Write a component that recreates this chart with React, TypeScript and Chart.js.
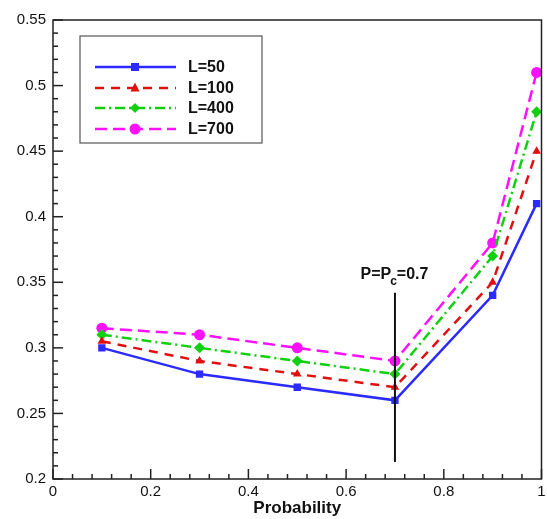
import React, { useEffect, useRef } from "react";
import { Chart, registerables } from "chart.js";

Chart.register(...registerables);

const probability = [0.1, 0.3, 0.5, 0.7, 0.9, 0.99];
const l50 = [0.3, 0.28, 0.27, 0.26, 0.34, 0.41];
const l100 = [0.305, 0.29, 0.28, 0.27, 0.35, 0.45];
const l400 = [0.31, 0.3, 0.29, 0.28, 0.37, 0.48];
const l700 = [0.315, 0.31, 0.3, 0.29, 0.38, 0.51];
const seriesLabels = ["L=50", "L=100", "L=400", "L=700"];
const markerLineX = 0.7;
const markerLineY = [0.213, 0.342];

const FONT = "'Liberation Sans', Arial, sans-serif";

const styles = [
  { color: "#2b2bff", dash: [] as number[], point: "rect", radius: 5.2, lr: 4 },
  { color: "#e01010", dash: [9, 7], point: "triangle", radius: 5, lr: 4.5 },
  { color: "#10d010", dash: [10, 4, 2, 4], point: "rectRot", radius: 5.5, lr: 5 },
  { color: "#ff10ff", dash: [12, 6], point: "circle", radius: 5.5, lr: 5.5 },
];

const drawMarker = (ctx: CanvasRenderingContext2D, kind: string, x: number, y: number, r: number, color: string) => {
  ctx.save();
  ctx.fillStyle = color;
  ctx.beginPath();
  if (kind === "rect") {
    ctx.rect(x - r, y - r, 2 * r, 2 * r);
  } else if (kind === "triangle") {
    ctx.moveTo(x, y - r * 1.2);
    ctx.lineTo(x + r, y + r * 0.8);
    ctx.lineTo(x - r, y + r * 0.8);
    ctx.closePath();
  } else if (kind === "rectRot") {
    ctx.moveTo(x, y - r);
    ctx.lineTo(x + r, y);
    ctx.lineTo(x, y + r);
    ctx.lineTo(x - r, y);
    ctx.closePath();
  } else {
    ctx.arc(x, y, r, 0, Math.PI * 2);
  }
  ctx.fill();
  ctx.restore();
};

const framePlugin = {
  id: "framePlugin",
  afterDatasetsDraw(chart: any) {
    const { ctx, chartArea: a, scales } = chart;
    const xs = scales.x;
    const ys = scales.y;
    ctx.save();
    ctx.strokeStyle = "#222";
    ctx.lineWidth = 1.5;
    ctx.strokeRect(a.left, a.top, a.right - a.left, a.bottom - a.top);
    for (let i = 0; i <= 25; i++) {
      const v = i * 0.04;
      const px = xs.getPixelForValue(v);
      const major = i % 5 === 0;
      ctx.beginPath();
      ctx.moveTo(px, a.bottom);
      ctx.lineTo(px, a.bottom - (major ? 10 : 5));
      ctx.stroke();
    }
    for (let i = 0; i <= 35; i++) {
      const v = 0.2 + i * 0.01;
      const py = ys.getPixelForValue(v);
      const major = i % 5 === 0;
      ctx.beginPath();
      ctx.moveTo(a.left, py);
      ctx.lineTo(a.left + (major ? 10 : 5), py);
      ctx.stroke();
    }
    ctx.strokeStyle = "#111";
    ctx.lineWidth = 2;
    const lx = xs.getPixelForValue(markerLineX);
    ctx.beginPath();
    ctx.moveTo(lx, ys.getPixelForValue(markerLineY[0]));
    ctx.lineTo(lx, ys.getPixelForValue(markerLineY[1]));
    ctx.stroke();
    ctx.fillStyle = "#111";
    ctx.textBaseline = "alphabetic";
    const t1 = "P=P";
    const t2 = "c";
    const t3 = "=0.7";
    ctx.font = `bold 16px ${FONT}`;
    const w1 = ctx.measureText(t1).width;
    const w3 = ctx.measureText(t3).width;
    ctx.font = `bold 12px ${FONT}`;
    const w2 = ctx.measureText(t2).width;
    const total = w1 + w2 + w3;
    const sx = lx - total / 2;
    const by = ys.getPixelForValue(markerLineY[1]) - 14;
    ctx.font = `bold 16px ${FONT}`;
    ctx.textAlign = "left";
    ctx.fillText(t1, sx, by);
    ctx.font = `bold 12px ${FONT}`;
    ctx.fillText(t2, sx + w1 - 1, by + 6);
    ctx.font = `bold 16px ${FONT}`;
    ctx.fillText(t3, sx + w1 + w2 - 1, by);

    const lx0 = 80, ly0 = 36, lw = 182, lh = 107;
    ctx.fillStyle = "#fff";
    ctx.fillRect(lx0, ly0, lw, lh);
    ctx.strokeStyle = "#555";
    ctx.lineWidth = 1.2;
    ctx.strokeRect(lx0, ly0, lw, lh);
    const rows = [67, 88, 108, 129];
    rows.forEach((ry, i) => {
      const s = styles[i];
      ctx.save();
      ctx.strokeStyle = s.color;
      ctx.lineWidth = 2.5;
      ctx.setLineDash(s.dash);
      ctx.beginPath();
      ctx.moveTo(95, ry);
      ctx.lineTo(176, ry);
      ctx.stroke();
      ctx.restore();
      drawMarker(ctx, s.point, 135, ry, s.lr, s.color);
      ctx.fillStyle = "#111";
      ctx.font = `bold 16px ${FONT}`;
      ctx.textAlign = "left";
      ctx.textBaseline = "middle";
      ctx.fillText(seriesLabels[i], 188, ry + 1);
    });
    ctx.restore();
  },
};

export default function App() {
  const ref = useRef<HTMLCanvasElement | null>(null);
  useEffect(() => {
    if (!ref.current) return;
    const all = [l50, l100, l400, l700];
    const chart = new Chart(ref.current, {
      type: "line",
      data: {
        datasets: all.map((vals, i) => ({
          label: seriesLabels[i],
          data: vals.map((v, j) => ({ x: probability[j], y: v })),
          borderColor: styles[i].color,
          backgroundColor: styles[i].color,
          borderWidth: 2.5,
          borderDash: styles[i].dash,
          pointStyle: styles[i].point as any,
          pointRadius: styles[i].radius,
          pointBorderWidth: 0,
          tension: 0,
          fill: false,
        })),
      },
      options: {
        animation: false,
        responsive: false,
        maintainAspectRatio: false,
        layout: { padding: { left: 0, right: 0, top: 20, bottom: 0 } },
        plugins: {
          legend: { display: false },
          tooltip: { enabled: false },
        },
        scales: {
          x: {
            type: "linear",
            min: 0,
            max: 1,
            grid: { display: false, drawTicks: false },
            border: { display: false },
            ticks: {
              stepSize: 0.2,
              padding: 4,
              color: "#111",
              font: { family: FONT, size: 15 },
              callback: (v: any) => String(+Number(v).toFixed(2)),
            },
            title: {
              display: true,
              text: "Probability",
              color: "#111",
              padding: { top: 0, bottom: 0 },
              font: { family: FONT, size: 17, weight: "bold" },
            },
            afterFit: (s: any) => { s.height = 40; s.paddingRight = 0; s.paddingLeft = 0; },
          },
          y: {
            type: "linear",
            min: 0.2,
            max: 0.55,
            grid: { display: false, drawTicks: false },
            border: { display: false },
            ticks: {
              stepSize: 0.05,
              padding: 7,
              color: "#111",
              font: { family: FONT, size: 15 },
              callback: (v: any) => String(+Number(v).toFixed(2)),
            },
            afterFit: (s: any) => { s.width = 53; s.paddingTop = 0; s.paddingBottom = 0; },
          },
        },
      },
      plugins: [framePlugin],
    } as any);
    return () => chart.destroy();
  }, []);
  return (
    <div style={{ position: "fixed", left: 0, top: 0, width: 547, height: 519, background: "#fff" }}>
      <canvas ref={ref} width={547} height={519} style={{ width: 547, height: 519 }} />
    </div>
  );
}
